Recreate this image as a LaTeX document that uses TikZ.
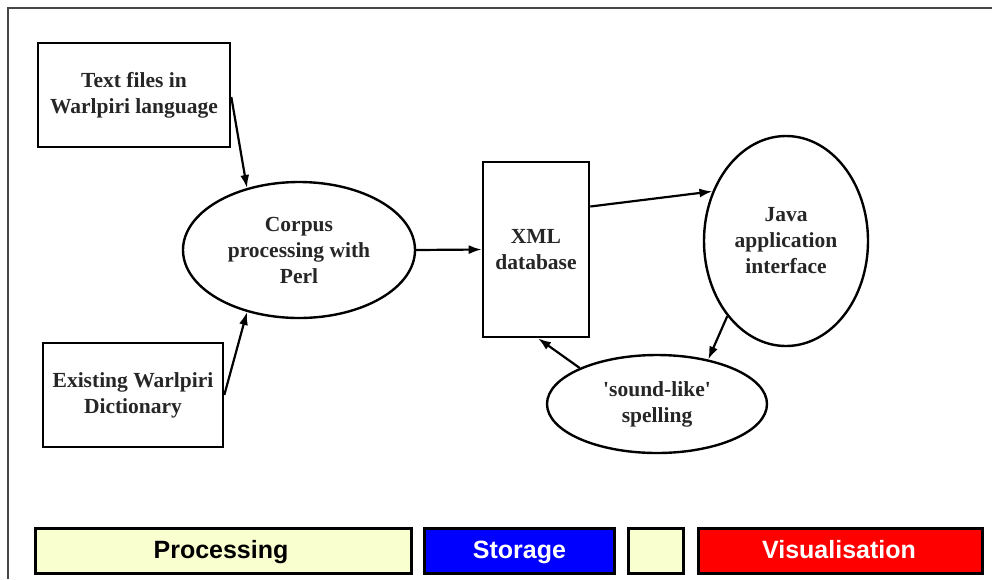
\documentclass[tikz,border=0pt]{standalone}
\usepackage{fontspec}
\setmainfont{Liberation Serif}
\newfontfamily\legendfont{Liberation Sans}
\usetikzlibrary{shapes.geometric,arrows.meta,calc}
\definecolor{paleyellow}{RGB}{250,255,208}
\definecolor{framegray}{RGB}{70,70,70}
\begin{document}
\begin{tikzpicture}[x=1pt,y=-1pt,
  diagtext/.style={font=\fontsize{21.5}{26}\selectfont\bfseries, align=center, text=black!85},
  boxnode/.style={diagtext, draw, line width=2.6pt, inner sep=0pt},
  ellnode/.style={diagtext, draw, ellipse, line width=2.4pt, inner sep=0pt},
  conn/.style={line width=2.2pt, -{Latex[length=13pt,width=9pt]}},
  legbox/.style={draw=black, line width=3pt, minimum height=45pt, inner sep=0pt,
     font=\legendfont\fontsize{25}{28}\selectfont\bfseries},
  legtext/.style={font=\legendfont\fontsize{25}{28}\selectfont\bfseries, inner sep=0pt}
]
\useasboundingbox (0,0) rectangle (992,579);
\fill[white] (0,0) rectangle (992,579);
% frame
\draw[framegray, line width=2.4pt] (8,579) -- (8,8) -- (992,8);

% nodes
\node[boxnode, minimum width=192pt, minimum height=104pt] (t1) at (134,95) {Text files in\\Warlpiri language};
\node[boxnode, minimum width=180pt, minimum height=104pt] (t2) at (133,395) {Existing Warlpiri\\Dictionary};
\node[ellnode, minimum width=232pt, minimum height=136pt] (corpus) at (299,250) {Corpus\\processing with\\Perl};
\node[boxnode, minimum width=106pt, minimum height=175pt] (xml) at (536,249.5) {XML\\database};
\node[ellnode, minimum width=164pt, minimum height=210pt] (java) at (786,241) {Java\\application\\interface};
\node[ellnode, minimum width=220pt, minimum height=98pt] (sound) at (657,404) {\textquotesingle sound-like\textquotesingle\\spelling};

% connectors
\draw[conn] ([yshift=-2pt]t1.east) -- (corpus.130);
\draw[conn] (t2.east) -- (corpus.230);
\draw[conn] (corpus.east) -- (xml.west);
\draw[conn] ([yshift=43pt]xml.east) -- (java.146);
\draw[conn] (java.232) -- (sound.41);
\draw[conn] (sound.155) -- ([xshift=2pt]xml.south);

% legend
\node[legbox, fill=paleyellow, minimum width=376pt] (lp) at (223,550.5) {};
\node[legbox, fill=blue, minimum width=190pt] (ls) at (519.5,550.5) {};
\node[legbox, fill=paleyellow, minimum width=55pt] (lx) at (656,550.5) {};
\node[legbox, fill=red, minimum width=284pt] (lv) at (840,550.5) {};
\node[legtext, text=black, anchor=base] (lpt) at (221,558) {Processing};
\node[legtext, text=white, anchor=base] (lst) at (519.5,558) {Storage};
\node[legtext, text=white, anchor=base] (lvt) at (839,558) {Visualisation};
\end{tikzpicture}
\end{document}
